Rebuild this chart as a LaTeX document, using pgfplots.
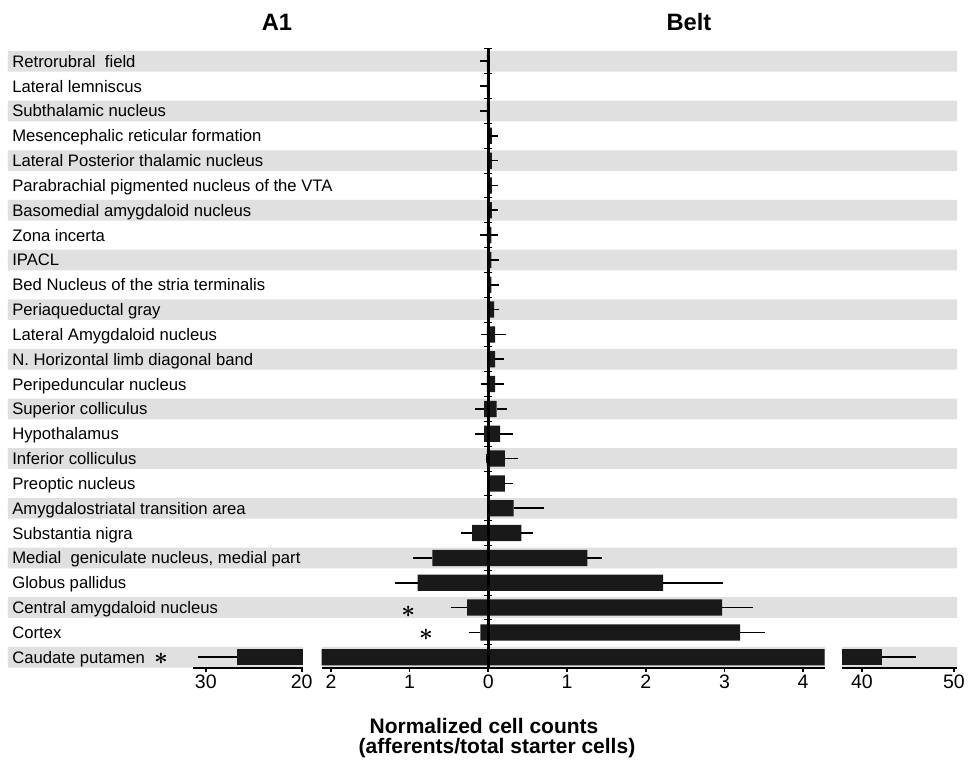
\documentclass[border=0pt]{standalone}
\usepackage{fontspec}
\setmainfont{Liberation Sans}
\usepackage{pgfplots}
\pgfplotsset{compat=1.18}
\usepackage{pgfplotstable}

% y = 24 - row index (row 0 = Retrorubral field at top, row 24 = Caudate putamen)
\pgfplotstableread{
y x e
21 0.045 0.02
20 0.045 0.02
19 0.045 0.02
18 0.045 0.02
17 0.040 0.018
16 0.040 0.033
15 0.040 0.03
14 0.075 0.005
13 0.085 0.085
12 0.085 0.05
11 0.085 0.05
10 0.105 0.07
9 0.15 0.11
8 0.21 0.11
7 0.21 0.05
6 0.32 0.325
5 0.42 0.085
4 1.26 0.12
3 2.22 0.70
2 2.97 0.33
1 3.20 0.26
0 42.2 3.2
}\belt

\pgfplotstableread{
y x e
24 -0.02 0.03
23 -0.02 0.025
22 -0.02 0.025
17 -0.02 0.03
13 -0.02 0.02
11 -0.02 0.02
10 -0.055 0.06
9 -0.055 0.06
8 -0.02 0.0
5 -0.207 0.076
4 -0.71 0.19
3 -0.90 0.23
2 -0.27 0.14
1 -0.10 0.09
0 -26.7 3.6
}\aone

\pgfplotstableread{
y x e
0 -26.7 3.6
}\aonebig

\pgfplotstableread{
y x e
0 42.2 3.2
}\beltbig

\pgfplotsset{
  commony/.style={anchor=south west, scale only axis, height=371.7pt,
    ymin=-0.43, ymax=24.52},
  segaxis/.style={commony, axis x line*=bottom, axis y line=none, ytick=\empty,
    x axis line style={-, line width=1pt, black},
    tick align=outside, major tick length=2.4pt,
    tick style={line width=1pt, black},
    typeset ticklabels with strut,
    xticklabel style={font=\fontsize{11.7}{12}\selectfont, inner sep=1.5pt}},
  barA/.style={xbar, bar shift=0pt, bar width=0.655, fill=black!90, draw=none,
    error bars/.cd, x dir=minus, x explicit,
    error bar style={line width=1pt, black},
    error mark options={line width=1pt, mark size=2.8pt, black}},
  barB/.style={xbar, bar shift=0pt, bar width=0.655, fill=black!90, draw=none,
    error bars/.cd, x dir=plus, x explicit,
    error bar style={line width=1pt, black},
    error mark options={line width=1pt, mark size=2.8pt, black}},
}

\newsavebox{\sigbox}

\begin{document}%
\sbox{\sigbox}{\fontsize{14.5}{14.5}\selectfont\boldmath$\ast$\unboldmath}%
\begin{tikzpicture}

% background bands and row labels
\begin{axis}[commony, at={(4.8pt,58.26pt)}, width=569.4pt, axis on top,
  xmin=8, xmax=957, axis line style={draw=none}, xtick=\empty,
  ytick={0,...,24}, major tick length=0pt, tick style={draw=none},
  yticklabels={Caudate putamen, Cortex, Central amygdaloid nucleus, Globus pallidus,
    {Medial\ \ geniculate nucleus, medial part}, Substantia nigra,
    Amygdalostriatal transition area, Preoptic nucleus, Inferior colliculus,
    Hypothalamus, Superior colliculus, Peripeduncular nucleus,
    N. Horizontal limb diagonal band, Lateral Amygdaloid nucleus,
    Periaqueductal gray, Bed Nucleus of the stria terminalis, IPACL,
    Zona incerta, Basomedial amygdaloid nucleus,
    Parabrachial pigmented nucleus of the VTA,
    Lateral Posterior thalamic nucleus, Mesencephalic reticular formation,
    Subthalamic nucleus, Lateral lemniscus, {Retrorubral\ \ field}},
  yticklabel style={anchor=base west, inner xsep=2.4pt, yshift=-3.6pt,
    font=\fontsize{10}{12}\selectfont}]
\addplot[xbar, bar shift=0pt, bar width=0.834, fill=gray!24, draw=none]
  coordinates {(957,0) (957,2) (957,4) (957,6) (957,8) (957,10) (957,12)
  (957,14) (957,16) (957,18) (957,20) (957,22) (957,24)};
\fill[white] (axis cs:303.3,-0.5) rectangle (axis cs:321.7,0.5);
\fill[white] (axis cs:824.5,-0.5) rectangle (axis cs:842,0.5);
\node[inner sep=0pt] at (axis cs:161,-0.07) {\usebox{\sigbox}};
\end{axis}

% left broken segment (A1, 20-30)
\begin{axis}[segaxis, at={(115.98pt,58.26pt)}, width=66pt,
  xmin=-31.30, xmax=-19.83, xtick={-30,-20}, xticklabels={30,20}]
\addplot[barA] table[x=x, y=y, x error=e]{\aonebig};
\end{axis}

% middle segment
\begin{axis}[segaxis, at={(193.02pt,58.26pt)}, width=301.68pt,
  xmin=-2.117, xmax=4.272, xtick={-2,-1,0,1,2,3,4},
  xticklabels={2,1,0,1,2,3,4}]
\addplot[barA] table[x=x, y=y, x error=e]{\aone};
\addplot[barB] table[x=x, y=y, x error=e]{\belt};
\addplot[black, line width=1.8pt] coordinates {(0,-0.43) (0,24.52)};
\addplot[only marks, mark=-, mark size=2.4pt, mark options={line width=0.6pt, black}]
  coordinates {(0,0.5) (0,1.5) (0,2.5) (0,3.5) (0,4.5) (0,5.5) (0,6.5) (0,7.5)
  (0,8.5) (0,9.5) (0,10.5) (0,11.5) (0,12.5) (0,13.5) (0,14.5) (0,15.5) (0,16.5)
  (0,17.5) (0,18.5) (0,19.5) (0,20.5) (0,21.5) (0,22.5) (0,23.5) (0,24.5)};
\node[inner sep=0pt] at (axis cs:-1.017,1.83) {\usebox{\sigbox}};
\node[inner sep=0pt] at (axis cs:-0.792,0.895) {\usebox{\sigbox}};
\end{axis}

% right broken segment (Belt, 40-50)
\begin{axis}[segaxis, at={(505.2pt,58.26pt)}, width=69pt,
  xmin=37.83, xmax=50.33, xtick={40,50}, xticklabels={40,50}]
\addplot[barB] table[x=x, y=y, x error=e]{\beltbig};
\end{axis}

% titles and axis label
\node[font=\bfseries\fontsize{14.2}{15}\selectfont] at (166.2pt,445.8pt) {A1};
\node[font=\bfseries\fontsize{14.2}{15}\selectfont] at (413.4pt,445.8pt) {Belt};
\node[anchor=base, inner sep=0pt, font=\bfseries\fontsize{12.6}{13}\selectfont]
  at (290.4pt,19.2pt) {Normalized cell counts};
\node[anchor=base, inner sep=0pt, font=\bfseries\fontsize{12.6}{13}\selectfont]
  at (298.2pt,7.2pt) {(afferents/total starter cells)};

\pgfresetboundingbox
\path[use as bounding box] (0,0) rectangle (581.4pt,459pt);
\end{tikzpicture}%
\end{document}
